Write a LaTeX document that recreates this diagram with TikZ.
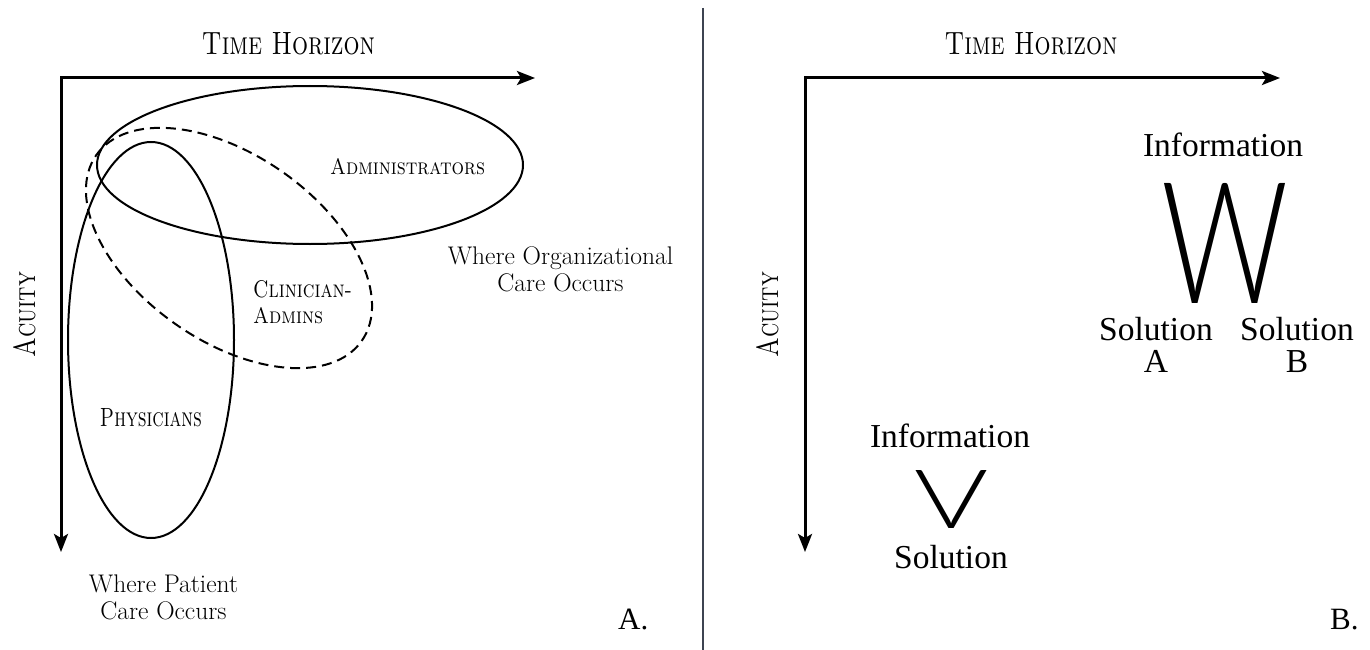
\documentclass[tikz,border=0pt]{standalone}
\usepackage{fontspec}
\usepackage{graphicx}
\usetikzlibrary{arrows.meta}
\newfontfamily\labelserif{Liberation Serif}
\newfontfamily\bigsans{Lato}[UprightFont=* Light]
\definecolor{divider}{HTML}{3D4451}

\tikzset{
  axes/.style={line width=3pt, line join=miter,
    {Stealth[length=18pt,width=14pt,inset=4pt]}-{Stealth[length=18pt,width=14pt,inset=4pt]}},
  region/.style={line width=2pt},
  dashregion/.style={line width=2pt, dash pattern=on 10pt off 6pt},
  txt/.style={inner sep=0pt, anchor=base},
  wheretext/.style={inner sep=0pt, anchor=north, align=center,
    font=\fontsize{25.5}{27}\selectfont},
  soltext/.style={inner sep=0pt, align=center,
    font=\labelserif\fontsize{33.5}{32}\selectfont},
  paneltag/.style={inner sep=0pt, anchor=base west,
    font=\labelserif\fontsize{31}{31}\selectfont},
}

\begin{document}
\begin{tikzpicture}[x=1pt,y=-1pt]
\useasboundingbox (0,0) rectangle (1370,650);

% ---------- panel A ----------
\coordinate (Lo) at (61,78);
\coordinate (Lx) at (535,78);
\coordinate (Ly) at (61,552);
\draw[axes] (Lx) -- (Lo) -- (Ly);

\node[txt] (lth) at (288.5,55) {\resizebox{173pt}{22pt}{\textsc{Time Horizon}}};
\node[txt, rotate=90] (lac) at (35,314.5) {\resizebox{85pt}{22pt}{\textsc{Acuity}}};

% overlapping groups
\draw[region] (310,165) ellipse [x radius=213pt, y radius=79pt];
\draw[region] (151,340) ellipse [x radius=83pt, y radius=198pt];
\draw[dashregion, rotate around={-35:(229,248)}] (229,248) ellipse [x radius=162pt, y radius=93pt];

\node[txt] (adm) at (407.5,174) {\resizebox{155pt}{16pt}{\textsc{Administrators}}};
\node[inner sep=0pt, anchor=north west, align=left, font=\fontsize{24}{26}\selectfont]
  (cla) at (253,280) {\resizebox{99pt}{17pt}{\textsc{Clinician-}}\\\resizebox{70pt}{16pt}{\textsc{Admins}}};
\node[txt] (phy) at (151,426) {\resizebox{102pt}{18pt}{\textsc{Physicians}}};

\node[wheretext] (org) at (560.5,246) {Where Organizational\\Care Occurs};
\node[wheretext] (pat) at (163.5,575) {Where Patient\\Care Occurs};

\node[paneltag] (tagA) at (618,629) {A.};

% ---------- divider ----------
\coordinate (Dt) at (703,8);
\coordinate (Db) at (703,650);
\draw[divider, line width=2pt] (Dt) -- (Db);

% ---------- panel B ----------
\coordinate (Ro) at (805,78);
\coordinate (Rx) at (1280,78);
\coordinate (Ry) at (805,552);
\draw[axes] (Rx) -- (Ro) -- (Ry);

\node[txt] (rth) at (1031,55) {\resizebox{173pt}{22pt}{\textsc{Time Horizon}}};
\node[txt, rotate=90] (rac) at (778,314.5) {\resizebox{85pt}{22pt}{\textsc{Acuity}}};

% divergent pattern
\node[soltext, anchor=base] (infW) at (1223,156) {Information};
\node[txt] (W) at (1225,303) {\resizebox{127pt}{120pt}{\bigsans W}};
\node[soltext, anchor=north] (solA) at (1156,317.5) {Solution\\A};
\node[soltext, anchor=north] (solB) at (1297,317.5) {Solution\\B};

% convergent pattern
\node[soltext, anchor=base] (infV) at (950,447) {Information};
\node[txt] (V) at (951,528) {\resizebox{74pt}{58pt}{\bigsans V}};
\node[soltext, anchor=base] (solV) at (951,568) {Solution};

\node[paneltag] (tagB) at (1330,629) {B.};
\end{tikzpicture}
\end{document}
